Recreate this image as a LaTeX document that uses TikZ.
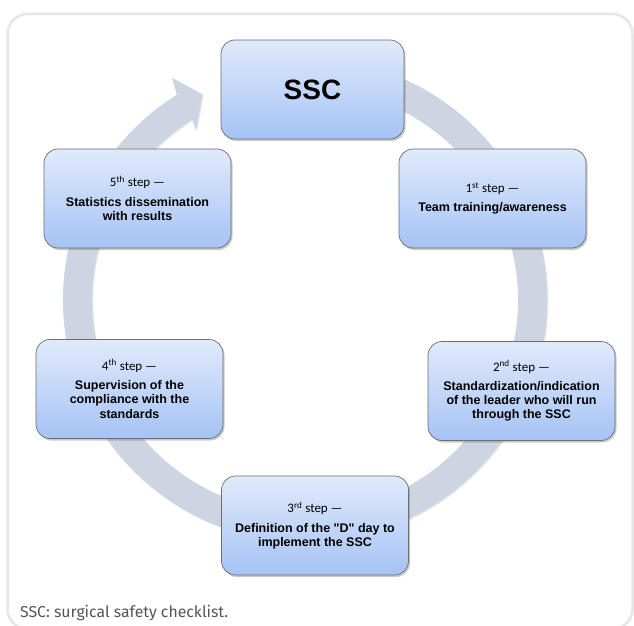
\documentclass[tikz,border=0pt]{standalone}
\usepackage{fontspec}
\setmainfont{Liberation Sans}
\newfontfamily\carl{Carlito}
\newfontfamily\capf{Fira Sans}
\usetikzlibrary{shadows}
\definecolor{ringc}{HTML}{CDD5E3}
\definecolor{framec}{HTML}{E6E6E6}
\definecolor{boxtop}{HTML}{E0EAFB}
\definecolor{boxbot}{HTML}{A6C3F5}
\definecolor{boxline}{HTML}{6E6E6E}
\definecolor{capc}{HTML}{555555}
\tikzset{
  stepbox/.style={draw=boxline, line width=0.7pt, rounded corners=14pt,
    top color=boxtop, bottom color=boxbot,
    minimum width=187pt, minimum height=99pt, align=center, inner sep=2pt,
    font=\fontsize{12.5}{14.3}\selectfont\bfseries,
    drop shadow={shadow xshift=1.5pt, shadow yshift=-2pt, opacity=0.35, fill=black!60}},
}
\newcommand{\stepline}[2]{{\carl\mdseries\fontsize{13}{15}\selectfont #1\textsuperscript{#2} step —}}
\begin{document}
\begin{tikzpicture}[x=1pt,y=1pt]
\useasboundingbox (0,0) rectangle (634,625);
\fill[white] (0,0) rectangle (634,625);
\begin{scope}
\clip (0,0) rectangle (634,625);
\draw[framec, line width=2.5pt, rounded corners=20pt] (7.5,-4) rectangle (632.5,611);
\end{scope}
% ring arrow
\begin{scope}[shift={(305,325)}]
\fill[black!30, opacity=0.35, xshift=1.2pt, yshift=-1.2pt]
  (75:242) arc[start angle=75,end angle=-238,radius=242] -- (-239.1:259) -- (-243.5:230) -- (-237.3:202) -- (-238:213) arc[start angle=-238,end angle=75,radius=213] -- cycle;
\fill[ringc]
  (75:242) arc[start angle=75,end angle=-238,radius=242] -- (-239.1:259) -- (-243.5:230) -- (-237.3:202) -- (-238:213) arc[start angle=-238,end angle=75,radius=213] -- cycle;
\end{scope}
% boxes
\node[stepbox, minimum width=183pt, font=\fontsize{28}{30}\selectfont\bfseries] (ssc) at (312.5,535.5) {SSC};
\node[stepbox] (s1) at (492.5,426.5) {\stepline{1}{st}\\[5pt] Team training/awareness};
\node[stepbox] (s2) at (521.5,234) {\stepline{2}{nd}\\[5pt] Standardization/indication\\of the leader who will run\\through the SSC};
\node[stepbox] (s3) at (315,99.5) {\stepline{3}{rd}\\[5pt] Definition of the \textquotedbl D\textquotedbl{} day to\\implement the SSC};
\node[stepbox] (s4) at (129.5,236) {\stepline{4}{th}\\[5pt] Supervision of the\\compliance with the\\standards};
\node[stepbox] (s5) at (137.5,426.5) {\stepline{5}{th}\\[5pt] Statistics dissemination\\with results};
% caption
\node[anchor=base west, inner sep=0pt, text=capc, font=\capf\fontsize{15.8}{18}\selectfont] (cap) at (20,8) {SSC: surgical safety checklist.};
\end{tikzpicture}
\end{document}
